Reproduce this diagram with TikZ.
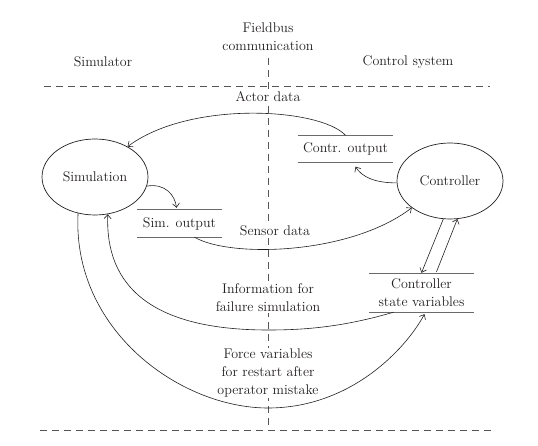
\documentclass[tikz,border=0pt]{standalone}
\usetikzlibrary{arrows.meta,shapes.geometric,calc}
\definecolor{txt}{HTML}{231F20}
\definecolor{lin}{HTML}{231F20}
\definecolor{dashc}{HTML}{555555}
\definecolor{boxc}{HTML}{6A6A6A}
\begin{document}
\begin{tikzpicture}[x=1pt,y=-1pt,
  every node/.style={font=\fontsize{14}{18}\selectfont, text=txt},
  proc/.style={draw=lin, ellipse, line width=0.7pt, minimum width=106pt, minimum height=76pt, inner sep=0pt},
  store/.style={minimum width=#1, minimum height=27pt, inner sep=0pt, align=center},
  storeline/.style={draw=boxc, line width=0.8pt},
  divider/.style={draw=dashc, line width=0.8pt, dash pattern=on 7pt off 5pt},
  flow/.style={draw=lin, line width=0.6pt, -{Straight Barb[length=4pt,width=7pt]}},
  lbl/.style={fill=white, inner sep=1pt, align=center},
  plain/.style={inner sep=1pt, align=center}]
\useasboundingbox (0,0) rectangle (538,446);

% dividers
\coordinate (tl) at (44,86);
\coordinate (tr) at (490,86);
\coordinate (bl) at (40,430);
\coordinate (br) at (495,430);
\coordinate (vt) at (268,58);
\coordinate (vb) at (268,430);
\draw[divider] (tl) -- (tr);
\draw[divider] (bl) -- (br);
\draw[divider] (vt) -- (vb);

% headings
\node[plain] (fb) at (268,37) {Fieldbus\\communication};
\node[plain] (simr) at (103,62) {Simulator};
\node[plain] (cs) at (408,62) {Control system};

% processes
\node[proc] (sim) at (95,177) {Simulation};
\node[proc] (ctrl) at (450,181) {Controller};

% stores
\node[store=85pt, fill=white] (simout) at (179.5,223.5) {Sim. output};
\node[store=95pt] (ctrout) at (345.5,149) {Contr. output};
\node[store=105pt, minimum height=38pt] (csv) at (421.5,293) {Controller\\state variables};
\draw[storeline] (simout.north west) -- (simout.north east);
\draw[storeline] (simout.south west) -- (simout.south east);
\draw[storeline] (ctrout.north west) -- (ctrout.north east);
\draw[storeline] (ctrout.south west) -- (ctrout.south east);
\draw[storeline] (csv.north west) -- (csv.north east);
\draw[storeline] (csv.south west) -- (csv.south east);

% flows
\draw[flow] (ctrout.north) .. controls (320,108) and (190,100) .. (sim.43);
\draw[flow] (ctrl.182) .. controls (375,183) and (362,177) .. ([xshift=10pt,yshift=-4pt]ctrout.south);
\draw[flow] (sim.-10) .. controls (165,183) and (175,195) .. ([xshift=-3pt,yshift=2pt]simout.north);
\draw[flow] ([xshift=15pt]simout.south) .. controls (230,258) and (350,255) .. (ctrl.215);
\draw[flow] (ctrl.260) -- ([yshift=1pt]csv.north);
\draw[flow] ([xshift=15pt,yshift=2pt]csv.north) -- (ctrl.281);
\draw[flow] ([xshift=-28pt]csv.south) .. controls (340,328) and (300,330) .. (268,330)
   .. controls (150,330) and (105,285) .. (sim.-71);
\draw[flow] (sim.-115) .. controls (72,330) and (180,408) .. (268,408)
   .. controls (350,408) and (405,350) .. ([xshift=3pt,yshift=-2pt]csv.south);

% labels
\node[lbl] (actor) at (268,97) {Actor data};
\node[lbl] (sensor) at (275,231) {Sensor data};
\node[lbl] (info) at (268,298) {Information for\\failure simulation};
\node[lbl] (force) at (268,373) {Force variables\\for restart after\\operator mistake};
\end{tikzpicture}
\end{document}
